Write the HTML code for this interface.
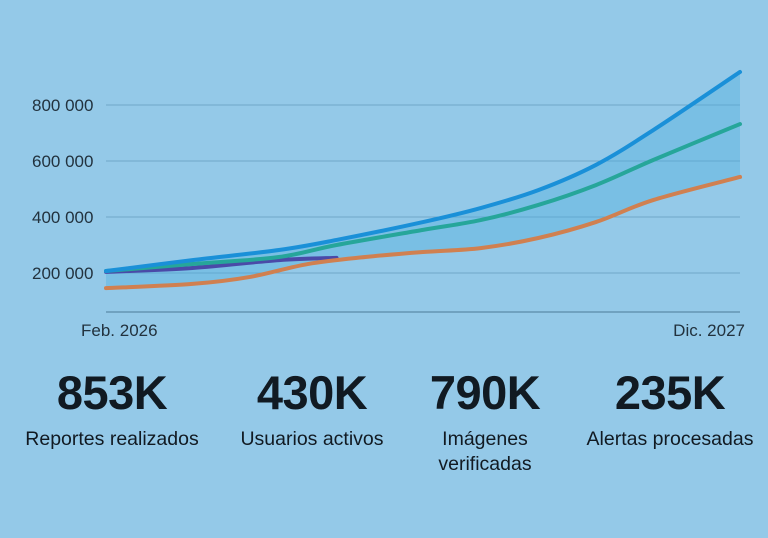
<!DOCTYPE html>
<html><head><meta charset="utf-8"><style>
body{margin:0;width:768px;height:538px;background:#94c9e8;font-family:"Liberation Sans",sans-serif;color:#111a22;overflow:hidden;position:relative}
.stat{position:absolute;text-align:center;width:200px}
.num{font-size:47px;font-weight:bold;line-height:1;letter-spacing:-0.5px}
.lab{font-size:19.5px;line-height:25px;margin-top:11px}
</style></head><body>
<svg id="chart" width="768" height="340" style="position:absolute;left:0;top:0"></svg>
<div class="stat" style="left:12px;top:369px"><div class="num">853K</div><div class="lab">Reportes realizados</div></div>
<div class="stat" style="left:212px;top:369px"><div class="num">430K</div><div class="lab">Usuarios activos</div></div>
<div class="stat" style="left:385px;top:369px"><div class="num">790K</div><div class="lab">Imágenes<br>verificadas</div></div>
<div class="stat" style="left:570px;top:369px"><div class="num">235K</div><div class="lab">Alertas procesadas</div></div>
<script>
const yTicks=[200000,400000,600000,800000];
const tickLabels=["200 000","400 000","600 000","800 000"];
const xLabels=["Feb. 2026","Dic. 2027"];
const blueX=[0,3,6,8,11,13,15,17,19,22];
const blueY=[207000,246000,282000,318000,382000,432000,496000,586000,711000,918000];
const tealX=[0,3,6,8,11,13,15,17,19,22];
const tealY=[207000,232000,257000,300000,354000,389000,443000,514000,604000,732000];
const orangeX=[0,3,5,7,9,11,13,15,17,19,22];
const orangeY=[146000,161000,186000,232000,257000,275000,289000,325000,382000,461000,543000];
const purpleX=[0,3,6,8];
const purpleY=[204000,218000,246000,254000];
const svg=document.getElementById('chart');
const NS='http://www.w3.org/2000/svg';
const X=i=>106+i*(634/22);
const Y=v=>329-v/200000*56;
function mk(t,a){const e=document.createElementNS(NS,t);for(const k in a)e.setAttribute(k,a[k]);svg.appendChild(e);return e;}
function path(xs,ys){const p=xs.map((x,i)=>[X(x),Y(ys[i])]);let d='M'+p[0][0]+','+p[0][1];
for(let i=0;i<p.length-1;i++){const p0=p[i-1]||p[i],p1=p[i],p2=p[i+1],p3=p[i+2]||p2;
d+=' C'+(p1[0]+(p2[0]-p0[0])/6)+','+(p1[1]+(p2[1]-p0[1])/6)+' '+(p2[0]-(p3[0]-p1[0])/6)+','+(p2[1]-(p3[1]-p1[1])/6)+' '+p2[0]+','+p2[1];}return d;}
yTicks.forEach((t,i)=>{
const g=mk('line',{x1:106,x2:740,y1:Y(t),y2:Y(t),stroke:'#6fa6c8','stroke-width':1});

const l=mk('text',{x:32,y:Y(t)+6,'font-size':17,fill:'#22323e'});l.textContent=tickLabels[i];
});
const ax=mk('line',{x1:106,x2:740,y1:312,y2:312,stroke:'#5a8aa8','stroke-width':1.2});

const x1=mk('text',{x:81,y:336,'font-size':17,fill:'#22323e'});x1.textContent=xLabels[0];

const x2=mk('text',{x:745,y:336,'font-size':17,fill:'#22323e','text-anchor':'end'});x2.textContent=xLabels[1];

const bp=path(blueX,blueY);
const op=path(orangeX.slice().reverse(),orangeY.slice().reverse());
const area=mk('path',{d:bp+' L'+op.slice(1),fill:'#4fb0de','fill-opacity':0.38});

[[purpleX,purpleY,'#4a4aa8','purple-line'],[orangeX,orangeY,'#d08050','orange-line'],[tealX,tealY,'#26a69a','teal-line'],[blueX,blueY,'#1a90d8','blue-line']].forEach(s=>{
const p=mk('path',{d:path(s[0],s[1]),fill:'none',stroke:s[2],'stroke-width':4,'stroke-linecap':'round'});
});
</script>
</body></html>
